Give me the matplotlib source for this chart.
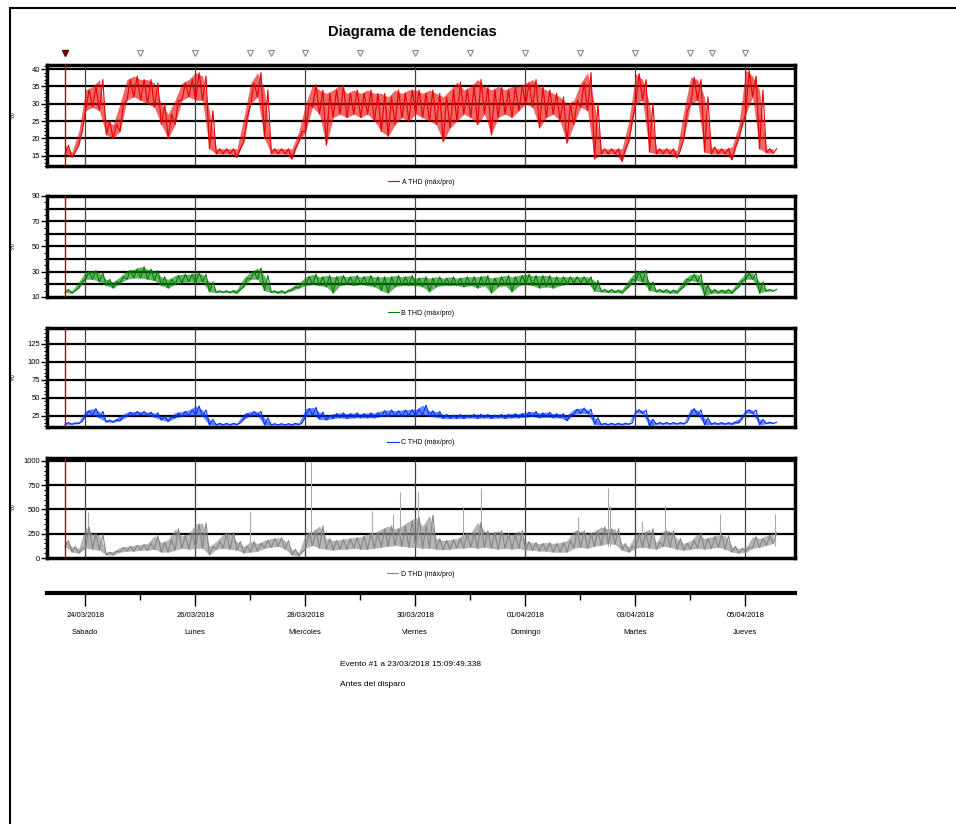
import numpy as np
import pandas as pd
import matplotlib
matplotlib.use('Agg')
import matplotlib.pyplot as plt
from matplotlib.ticker import MultipleLocator
from matplotlib.lines import Line2D

plt.rcParams['font.family'] = ['Liberation Sans Narrow', 'Liberation Sans', 'DejaVu Sans']

# trigger time and one min/max reading every 3 hours after it
start = pd.Timestamp('2018-03-23 15:09:49')
hours = np.arange(0, 312, 3)

a_lo = [15.5, 14.5, 18, 28, 29, 28, 21, 20, 22, 31, 32, 31, 30, 29, 24, 20, 24, 31, 32, 31,
        31, 17, 15.5, 15.5, 15.5, 14.5, 19, 30, 32, 20, 15.5, 15.5, 15.5, 14, 19, 22, 29, 27, 18, 26,
        27, 26, 27, 26, 27, 25, 22, 20.6, 24, 26, 25, 27, 26, 25, 24, 19, 23, 25, 27, 26,
        24, 27, 21, 26, 27, 26, 28, 30, 29, 23, 26, 27, 25, 18.6, 24, 29, 28, 14, 15.5, 15.5,
        15.5, 13.3, 19, 30, 31, 16, 15.5, 15.5, 15.5, 14.3, 20, 30, 31, 16, 15.5, 15.5, 15.5, 13.8, 20, 27,
        32, 17, 15.8, 15.7]
a_hi = [18, 16, 22, 34, 35, 37, 25, 24, 30, 37, 38, 37, 37, 36, 30, 27, 31, 36, 37, 39,
        38, 28, 17, 17, 17, 17, 26, 36, 39, 34, 17, 17, 17, 17, 22, 30, 35.5, 34, 33, 34,
        35.3, 33, 34, 33, 34, 33, 33, 32, 34, 33, 34, 34, 33, 34, 33, 32, 34, 36.3, 34, 35,
        37, 35, 34, 35, 34, 35, 35, 36, 37, 35, 34, 33, 32, 30, 31, 36, 39, 30, 17, 17,
        17, 17, 25, 38.7, 37, 30, 17, 17, 17, 16.5, 28, 37.7, 37, 32, 17.5, 17, 17, 17.5, 24, 39.7,
        38, 34, 17, 17]

b_lo = [13.5, 13, 17, 24, 24, 22, 19, 17, 21, 24, 25, 25, 24, 23, 19, 17, 20, 21, 22, 21,
        22, 14, 13.5, 13.5, 13.3, 13, 18, 24, 24, 15, 13.5, 13, 13, 15, 17, 19, 20, 19, 18, 13,
        19, 20, 19, 20, 19, 18, 15, 13, 18, 19, 19, 19, 18, 14, 18, 19, 19, 19, 18, 19,
        17, 19, 13, 18, 19, 14, 19, 20, 19, 17, 18, 17, 19, 20, 21, 21, 21, 14.6, 14, 13.5,
        13.5, 13, 18, 23, 22, 15, 14, 13.5, 13, 13, 18, 23, 22, 11, 13, 13, 13, 12.7, 18, 24,
        24, 13, 14.6, 14.6]
b_hi = [16, 15, 22, 30, 31, 29, 24, 22, 26, 31, 32, 34, 32, 31, 26, 24, 27, 28, 28, 29,
        28, 22, 15, 15, 15, 16, 25, 30, 33, 27, 15, 15, 15, 18, 21, 26, 28, 26, 27, 26,
        27, 26, 27, 26, 27, 26, 26, 26, 27, 26, 27, 25, 26, 25, 26, 25, 26, 25, 26, 26,
        26, 27, 25, 26, 27, 26, 27, 28, 27, 27, 27, 26, 26, 26, 26, 26, 26, 23, 16, 16,
        15.5, 16, 24, 30, 31.3, 22, 16, 16, 15.5, 16, 24, 28, 28, 20, 16, 15.5, 16, 16, 23, 29,
        29, 22, 16, 16]

c_lo = [13, 13, 14, 25, 26, 22, 16, 16, 18, 24, 25, 26, 25, 23, 19, 17, 22, 24, 25, 26,
        24, 12, 12, 12, 12, 12.5, 20, 25, 25, 12, 12, 12, 12, 12, 12.5, 24, 26, 20, 19, 21,
        22, 21, 22, 22, 22, 22, 24, 24, 25, 24, 25, 25, 26, 24, 23, 21, 21, 21, 21, 22,
        21, 22, 21, 22, 21, 22, 22, 23, 24, 22, 23, 22, 22, 18, 27, 28, 28, 13, 12.3, 12.3,
        12.3, 12.3, 13, 28.8, 28, 10, 13.2, 13.2, 13.2, 13.2, 13.5, 27, 26, 12.3, 13, 13, 13, 13, 15, 28.8,
        28, 12.3, 14, 14]
c_hi = [15.5, 15, 17, 32, 35, 31, 19, 19, 25, 30, 31, 31, 30, 29, 24, 23, 29, 31, 33, 38.5,
        33, 20, 14.5, 14.5, 14.5, 15, 28, 31, 31, 22, 14, 14, 14, 14.5, 15, 35, 36.8, 30, 25, 28,
        29, 28, 29, 28, 29, 29, 32, 33, 32, 33, 33.5, 34, 39.6, 32, 31, 27, 26, 27, 26, 27,
        27, 27, 26, 27, 27, 28, 28, 30, 31, 29, 30, 28, 28, 26, 34, 35.8, 34, 22, 14.6, 14.6,
        14.6, 14.6, 15, 33.5, 33, 20, 15.6, 15.6, 15.6, 15.6, 16, 35, 33, 22, 15.5, 15.5, 15.5, 16, 21, 33.5,
        33, 20, 16, 16]

d_lo = [120, 60, 50, 100, 90, 80, 30, 30, 60, 70, 70, 80, 80, 90, 60, 60, 80, 100, 90, 100,
        100, 30, 90, 100, 90, 80, 50, 60, 70, 100, 110, 120, 90, 30, 20, 100, 130, 100, 90, 80,
        90, 90, 100, 90, 90, 100, 110, 120, 130, 120, 110, 110, 100, 100, 90, 85, 90, 100, 100, 110,
        100, 110, 100, 90, 100, 90, 100, 80, 80, 70, 70, 60, 60, 60, 100, 110, 100, 120, 130, 150,
        140, 80, 60, 100, 110, 100, 90, 120, 110, 90, 80, 90, 100, 90, 100, 110, 90, 60, 50, 60,
        100, 110, 130, 150]
d_hi = [180, 120, 100, 320, 250, 240, 60, 70, 110, 120, 130, 140, 150, 230, 160, 190, 300, 230, 250, 350,
        360, 120, 170, 250, 260, 170, 120, 170, 150, 180, 200, 210, 180, 90, 60, 250, 280, 330, 200, 180,
        190, 200, 210, 220, 250, 260, 300, 330, 300, 330, 380, 420, 330, 440, 200, 180, 190, 200, 250, 260,
        368, 280, 260, 280, 250, 240, 280, 170, 160, 150, 160, 150, 160, 180, 280, 280, 250, 280, 320, 300,
        300, 150, 120, 250, 260, 300, 160, 280, 280, 200, 150, 180, 250, 200, 220, 240, 230, 120, 100, 110,
        220, 200, 230, 260]
# isolated peaks of D (hours after trigger, %)
d_spike_h = [10, 80.7, 107.3, 134, 143, 146.2, 154, 173.7, 181.5, 223.9, 237, 237.8, 251.8, 261.8, 285.8, 309.8]
d_spike_v = [475, 475, 990, 487, 453, 679, 679, 520, 723, 419, 723, 537, 385, 544, 453, 453]

# daily markers on the top strip
events = ['2018-03-25 00:00', '2018-03-26 00:00', '2018-03-27 00:00', '2018-03-27 09:05',
          '2018-03-28 00:00', '2018-03-29 00:00', '2018-03-30 00:00', '2018-03-31 00:00',
          '2018-04-01 00:00', '2018-04-02 00:00', '2018-04-03 00:00', '2018-04-04 00:00',
          '2018-04-04 09:30', '2018-04-05 00:00']

tick_days = ['2018-03-24', '2018-03-26', '2018-03-28', '2018-03-30', '2018-04-01', '2018-04-03', '2018-04-05']
day_names = ['Sabado', 'Lunes', 'Miercoles', 'Viernes', 'Domingo', 'Martes', 'Jueves']
minor_days = ['2018-03-25', '2018-03-27', '2018-03-29', '2018-03-31', '2018-04-02', '2018-04-04']

t0 = start - pd.Timedelta(hours=7.85)
t1 = start + pd.Timedelta(hours=318.5)
major_t = pd.to_datetime(tick_days)
minor_t = pd.to_datetime(minor_days)
tt = pd.to_datetime([start + pd.Timedelta(hours=h) for h in hours])


def zigzag(lo, hi):
    x = np.empty(2 * len(hours), dtype=object)
    y = np.empty(2 * len(hours))
    x[0::2] = [start + pd.Timedelta(hours=h) for h in hours]
    x[1::2] = [start + pd.Timedelta(hours=h + 1.5) for h in hours]
    y[0::2] = lo
    y[1::2] = hi
    return pd.to_datetime(x), y


fig = plt.figure(figsize=(9.56, 8.24), dpi=100)

panels = [
    # bottom, height, lo, hi, colour, label, ylim, major, grid, minor
    (0.7985, 0.1226, a_lo, a_hi, '#e80000', 'A THD (máx/pro)', (12, 41.2), [15, 20, 25, 30, 35, 40], [15, 20, 25, 30, 35, 40], 1),
    (0.6396, 0.1226, b_lo, b_hi, '#008000', 'B THD (máx/pro)', (10, 90), [10, 30, 50, 70, 90], [20, 30, 40, 50, 60, 70, 80], 5),
    (0.4818, 0.1201, c_lo, c_hi, '#0033ff', 'C THD (máx/pro)', (9.3, 147), [25, 50, 75, 100, 125], [25, 50, 75, 100, 125], 5),
    (0.3228, 0.1214, d_lo, d_hi, '#858585', 'D THD (máx/pro)', (0, 1030), [0, 250, 500, 750, 1000], [250, 500, 750, 1000], 50),
]

axes = []
for bottom, height, lo, hi, col, lab, ylim, major, grid, minor in panels:
    ax = fig.add_axes([0.0492, bottom, 0.7824, height])
    for y in grid:
        ax.axhline(y, color='black', lw=1.6, zorder=1)
    for d in major_t:
        ax.axvline(d, color='#444444', lw=0.9, zorder=1)
    ax.fill_between(tt, lo, hi, color=col, alpha=0.6, lw=0, zorder=2)
    x, y = zigzag(lo, hi)
    ax.plot(x, y, color=col, lw=0.8, zorder=3, label=lab)
    if lab.startswith('D'):
        sx = [start + pd.Timedelta(hours=h) for h in d_spike_h]
        ax.vlines(sx, [120] * len(sx), d_spike_v, color='#a8a8a8', lw=0.8, zorder=2)
    ax.axvline(start, color='#c00000', lw=1.0, zorder=4)
    ax.set_xlim(t0, t1)
    ax.set_ylim(*ylim)
    ax.set_yticks(major)
    ax.yaxis.set_minor_locator(MultipleLocator(minor))
    ax.tick_params(axis='y', which='major', length=4, width=1, labelsize=5.5, pad=1)
    ax.tick_params(axis='y', which='minor', length=2.5, width=0.8)
    ax.set_xticks([])
    for s in ax.spines.values():
        s.set_linewidth(2.5)
    ax.set_ylabel('%', fontsize=5.5, rotation=90)
    ax.yaxis.set_label_coords(-0.04, 0.5)
    ax.legend(loc='center', bbox_to_anchor=(0.5, -0.16), frameon=False, fontsize=5,
              handlelength=1.6, handletextpad=0.4, borderaxespad=0)
    axes.append(ax)

# event strip above the first panel
top = axes[0]
ev = pd.to_datetime(events)
top.plot(ev, [1.12] * len(ev), linestyle='none', marker='v', markersize=5,
         markerfacecolor='white', markeredgecolor='#8a8a8a', markeredgewidth=0.8,
         transform=top.get_xaxis_transform(), clip_on=False)
top.plot([start], [1.12], linestyle='none', marker='v', markersize=5,
         markerfacecolor='#8b0000', markeredgecolor='#5a0000',
         transform=top.get_xaxis_transform(), clip_on=False)

# shared time axis
axt = fig.add_axes([0.0492, 0.2803, 0.7824, 0.01])
axt.patch.set_visible(False)
for k in ['left', 'right', 'top']:
    axt.spines[k].set_visible(False)
axt.spines['bottom'].set_linewidth(3)
axt.set_xlim(t0, t1)
axt.set_yticks([])
axt.set_xticks(major_t)
axt.set_xticklabels([d.strftime('%d/%m/%Y') + '\n' + n for d, n in zip(major_t, day_names)],
                    fontsize=5.5, linespacing=3.0)
axt.set_xticks(minor_t, minor=True)
axt.tick_params(axis='x', which='major', length=9, width=1, pad=5)
axt.tick_params(axis='x', which='minor', length=5, width=1)

fig.text(0.431, 0.9615, 'Diagrama de tendencias', fontsize=10.5, fontweight='bold', ha='center', va='center')
fig.text(0.356, 0.194, 'Evento #1 a 23/03/2018 15:09:49.338', fontsize=6, ha='left', va='center')
fig.text(0.356, 0.169, 'Antes del disparo', fontsize=6, ha='left', va='center')

fig.add_artist(Line2D([10 / 956, 10 / 956], [0, 1 - 8 / 824], color='black', lw=1.5))
fig.add_artist(Line2D([10 / 956, 1], [1 - 8 / 824, 1 - 8 / 824], color='black', lw=1.5))

fig.savefig('out.png', dpi=100)
